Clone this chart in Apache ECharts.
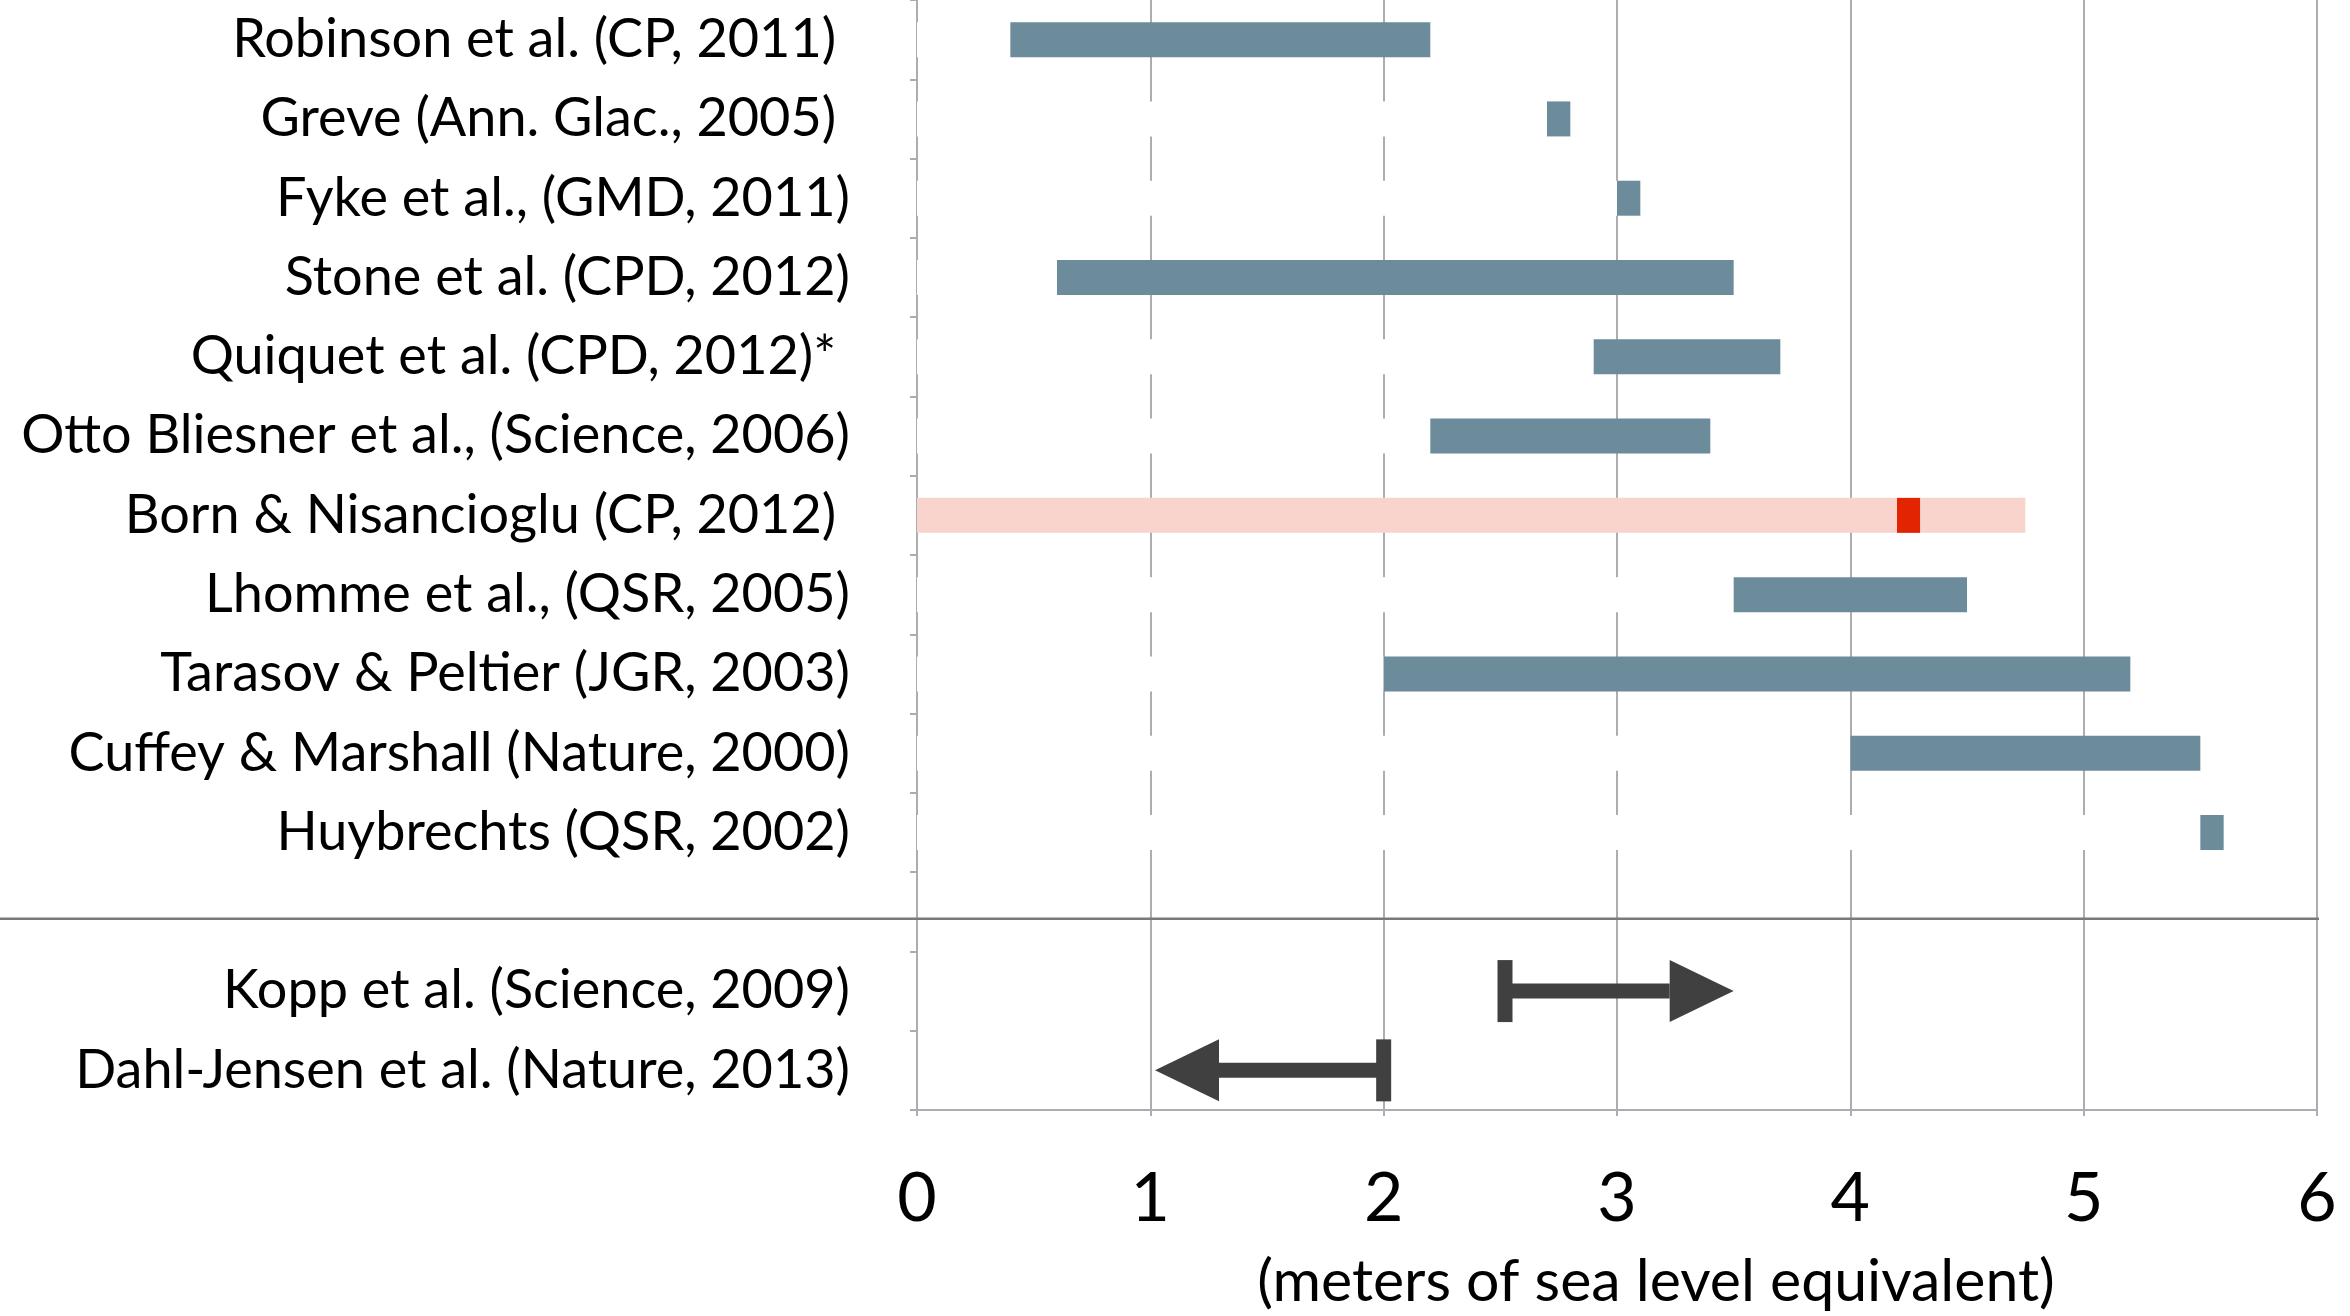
<!DOCTYPE html>
<html>
<head>
<meta charset="utf-8">
<script src="https://cdn.jsdelivr.net/npm/echarts@6/dist/echarts.min.js"></script>
<style>
    html, body {margin: 0; padding: 0; background: #fff;}
    #chart {width: 2350px; height: 1316px;}
</style>
</head>
<body>
<div id="chart"></div>
<script>
    // rows top to bottom, '' is the gap above the lower bound studies
    const studies = [
        'Robinson et al. (CP, 2011) ',
        'Greve (Ann. Glac., 2005) ',
        'Fyke et al., (GMD, 2011)',
        'Stone et al. (CPD, 2012)',
        'Quiquet et al. (CPD, 2012)* ',
        'Otto Bliesner et al., (Science, 2006)',
        'Born & Nisancioglu (CP, 2012) ',
        'Lhomme et al., (QSR, 2005)',
        'Tarasov & Peltier (JGR, 2003)',
        'Cuffey & Marshall (Nature, 2000)',
        'Huybrechts (QSR, 2002)',
        '',
        'Kopp et al. (Science, 2009)',
        'Dahl-Jensen et al. (Nature, 2013)'
    ];
    const lowEst = [0.4, 2.7, 3.0, 0.6, 2.9, 2.2, 0, 3.5, 2.0, 4.0, 5.5, null, null, null];
    const highEst = [2.2, 2.8, 3.1, 3.5, 3.7, 3.4, 4.75, 4.5, 5.2, 5.5, 5.6, null, null, null];
    // Born & Nisancioglu best estimate
    const bornRow = 6;
    const bornBest = [4.2, 4.3];
    // one sided bounds drawn as arrows
    const boundRows = [12, 13];
    const boundFrom = [2.52, 2.0];
    const boundTo = [3.5, 1.02];
    const xTicks = [0, 1, 2, 3, 4, 5, 6];

    const BLUE = '#6d8c9b', PINK = '#f8d4cd', RED = '#e22400', ARROW = '#404040', GRID = '#acacb2';

    const chart = echarts.init(document.getElementById('chart'));

    const pick = (fn) => studies.map((s, i) => {
        const v = fn(i);
        return v === null || v === undefined ? '-' : v;
    });

    const option = {
        animation: false,
        grid: {left: 917, right: 33, top: -5, bottom: 203},
        xAxis: {
            type: 'value',
            min: xTicks[0],
            max: xTicks[xTicks.length - 1],
            interval: 1,
            axisLine: {show: true, lineStyle: {color: GRID, width: 2}},
            axisTick: {show: true, length: 6, lineStyle: {color: GRID, width: 2}},
            splitLine: {show: true, lineStyle: {color: GRID, width: 2}},
            axisLabel: {
                margin: 55,
                fontFamily: 'Lato',
                fontSize: 68,
                color: '#000'
            },
            name: '(meters of sea level equivalent)',
            nameLocation: 'middle',
            nameGap: 142,
            nameTextStyle: {
                fontFamily: 'Lato',
                fontSize: 59,
                color: '#000',
                padding: [0, 0, 0, 78]
            }
        },
        yAxis: {
            type: 'category',
            inverse: true,
            data: studies,
            axisLine: {show: true, lineStyle: {color: GRID, width: 2}},
            axisTick: {show: true, length: 7, lineStyle: {color: GRID, width: 2}},
            splitLine: {show: false},
            axisLabel: {
                margin: 67,
                fontFamily: 'Lato',
                fontSize: 54,
                color: '#000'
            }
        },
        series: [
            {
                // white offset bar, hides the grid lines like the original
                name: 'offset',
                type: 'bar',
                stack: 'range',
                barWidth: 35,
                silent: true,
                itemStyle: {color: '#fff'},
                data: pick(i => lowEst[i])
            },
            {
                name: 'range',
                type: 'bar',
                stack: 'range',
                itemStyle: {color: BLUE},
                data: pick(i => i === bornRow || lowEst[i] === null ? null : +(highEst[i] - lowEst[i]).toFixed(3))
            },
            {
                name: 'born low',
                type: 'bar',
                stack: 'range',
                itemStyle: {color: PINK},
                data: pick(i => i === bornRow ? bornBest[0] - lowEst[i] : null)
            },
            {
                name: 'born best',
                type: 'bar',
                stack: 'range',
                itemStyle: {color: RED},
                data: pick(i => i === bornRow ? +(bornBest[1] - bornBest[0]).toFixed(3) : null)
            },
            {
                name: 'born high',
                type: 'bar',
                stack: 'range',
                itemStyle: {color: PINK},
                data: pick(i => i === bornRow ? +(highEst[i] - bornBest[1]).toFixed(3) : null)
            },
            {
                name: 'bounds',
                type: 'custom',
                encode: {x: [1, 2], y: 0},
                data: boundRows.map((r, i) => [r, boundFrom[i], boundTo[i]]),
                renderItem: function (params, api) {
                    const row = api.value(0);
                    const a = api.coord([api.value(1), row]);
                    const b = api.coord([api.value(2), row]);
                    const dir = b[0] > a[0] ? 1 : -1;
                    const headLen = 64, headHalf = 31, shaftHalf = 7.5, capW = 15, capHalf = 31;
                    const baseX = b[0] - dir * headLen;
                    const style = {fill: ARROW};
                    return {
                        type: 'group',
                        children: [
                            {type: 'rect', shape: {x: a[0] - capW / 2, y: a[1] - capHalf, width: capW, height: capHalf * 2}, style: style},
                            {type: 'rect', shape: {x: Math.min(a[0], baseX), y: a[1] - shaftHalf, width: Math.abs(baseX - a[0]), height: shaftHalf * 2}, style: style},
                            {type: 'polygon', shape: {points: [[baseX, a[1] - headHalf], [b[0], a[1]], [baseX, a[1] + headHalf]]}, style: style}
                        ]
                    };
                }
            }
        ]
    };

    chart.setOption(option);

    // separator line between the model studies and the data bounds
    const sepY = chart.convertToPixel({yAxisIndex: 0}, 11) + 7;
    const rightX = chart.convertToPixel({xAxisIndex: 0}, xTicks[xTicks.length - 1]);
    chart.setOption({
        graphic: [{
            type: 'line',
            shape: {x1: 0, y1: sepY, x2: rightX + 2, y2: sepY},
            style: {stroke: '#7a7a7a', lineWidth: 2.5},
            z: 10
        }]
    });
</script>
</body>
</html>
